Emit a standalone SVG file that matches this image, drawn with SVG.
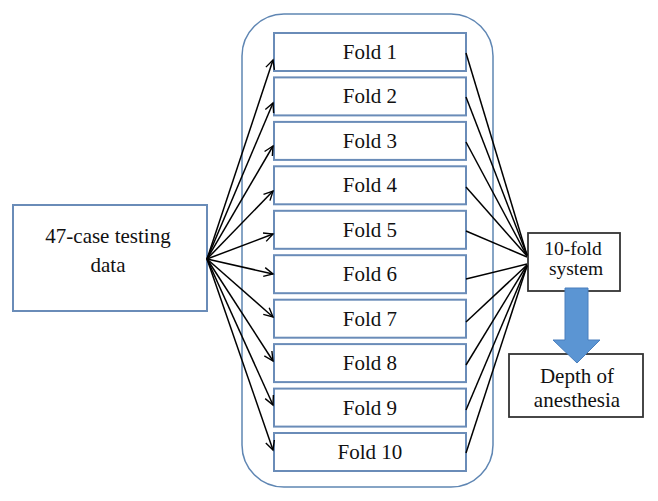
<svg xmlns="http://www.w3.org/2000/svg" width="658" height="501" viewBox="0 0 658 501">
<defs>
<style>
.fold{fill:#fff;stroke:#6a8cb8;stroke-width:2}
.lbl{font-family:"Liberation Serif","Times New Roman",serif;font-size:21px;fill:#111;text-anchor:middle}
.sm{font-size:19.5px}
.con{stroke:#000;stroke-width:1.5;fill:none}
.blk{fill:#fff;stroke:#333;stroke-width:1.8}
</style>
<marker id="ah" markerUnits="userSpaceOnUse" markerWidth="12" markerHeight="12" refX="10" refY="5" orient="auto" viewBox="0 0 12 10">
<path d="M1,0.5 L10,5 L1,9.5" fill="none" stroke="#000" stroke-width="1.4"/>
</marker>
</defs>
<rect width="658" height="501" fill="#fff"/>
<g id="container"><rect x="242" y="14" width="251" height="473" rx="42" ry="42" fill="none" stroke="#5f86b3" stroke-width="1.5"/></g>
<g id="testing-data"><rect x="13" y="205" width="194" height="106" class="fold"/><text class="lbl" x="108" y="243">47-case testing</text><text class="lbl" x="108" y="272">data</text></g>
<g id="fold1"><rect class="fold" x="274" y="33" width="192" height="38"/><text class="lbl" x="370" y="59">Fold 1</text></g>
<g id="fold2"><rect class="fold" x="274" y="77.4" width="192" height="38"/><text class="lbl" x="370" y="103.4">Fold 2</text></g>
<g id="fold3"><rect class="fold" x="274" y="121.9" width="192" height="38"/><text class="lbl" x="370" y="147.9">Fold 3</text></g>
<g id="fold4"><rect class="fold" x="274" y="166.3" width="192" height="38"/><text class="lbl" x="370" y="192.3">Fold 4</text></g>
<g id="fold5"><rect class="fold" x="274" y="210.8" width="192" height="38"/><text class="lbl" x="370" y="236.8">Fold 5</text></g>
<g id="fold6"><rect class="fold" x="274" y="255.2" width="192" height="38"/><text class="lbl" x="370" y="281.2">Fold 6</text></g>
<g id="fold7"><rect class="fold" x="274" y="299.7" width="192" height="38"/><text class="lbl" x="370" y="325.7">Fold 7</text></g>
<g id="fold8"><rect class="fold" x="274" y="344.1" width="192" height="38"/><text class="lbl" x="370" y="370.1">Fold 8</text></g>
<g id="fold9"><rect class="fold" x="274" y="388.6" width="192" height="38"/><text class="lbl" x="370" y="414.6">Fold 9</text></g>
<g id="fold10"><rect class="fold" x="274" y="433" width="192" height="38"/><text class="lbl" x="370" y="459">Fold 10</text></g>
<g id="system"><rect class="blk" x="528" y="233" width="92" height="58"/><text class="lbl sm" x="573" y="255">10-fold</text><text class="lbl sm" x="576" y="275">system</text></g>
<g id="depth"><rect class="blk" x="509" y="354" width="134" height="63"/><text class="lbl" x="577" y="383">Depth of</text><text class="lbl" x="577" y="407">anesthesia</text></g>
<g id="connectors">
<g class="con" marker-end="url(#ah)">
<line x1="207" y1="259" x2="273" y2="60"/>
<line x1="207" y1="259" x2="273" y2="103"/>
<line x1="207" y1="259" x2="273" y2="146"/>
<line x1="207" y1="259" x2="273" y2="191"/>
<line x1="207" y1="259" x2="273" y2="234"/>
<line x1="207" y1="259" x2="273" y2="274"/>
<line x1="207" y1="259" x2="273" y2="317"/>
<line x1="207" y1="259" x2="273" y2="361"/>
<line x1="207" y1="259" x2="273" y2="405"/>
<line x1="207" y1="259" x2="273" y2="450"/>
</g>
<g class="con">
<line x1="466" y1="53" x2="527" y2="255"/>
<line x1="466" y1="97" x2="527" y2="255"/>
<line x1="466" y1="142" x2="527" y2="256"/>
<line x1="466" y1="187" x2="527" y2="256"/>
<line x1="466" y1="231" x2="527" y2="257"/>
<line x1="466" y1="279" x2="527" y2="264"/>
<line x1="466" y1="322" x2="527" y2="265"/>
<line x1="466" y1="365" x2="527" y2="265"/>
<line x1="466" y1="410" x2="527" y2="266"/>
<line x1="466" y1="453" x2="527" y2="266"/>
</g>
<path d="M565,288 L588,288 L588,340 L600,340 L577,363 L553,340 L565,340 Z" fill="#5b95d3" stroke="#4a7fbd" stroke-width="1"/>
</g>
</svg>
